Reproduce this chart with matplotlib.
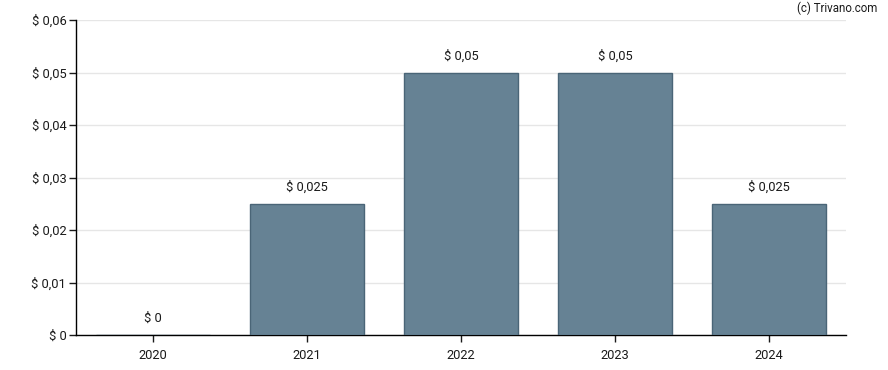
import matplotlib
matplotlib.use("Agg")
import matplotlib.pyplot as plt

years = ["2020", "2021", "2022", "2023", "2024"]
dividends = [0, 0.025, 0.05, 0.05, 0.025]
value_labels = ["$ 0", "$ 0,025", "$ 0,05", "$ 0,05", "$ 0,025"]
y_ticks = [0, 0.01, 0.02, 0.03, 0.04, 0.05, 0.06]
y_tick_labels = ["$ 0", "$ 0,01", "$ 0,02", "$ 0,03", "$ 0,04", "$ 0,05", "$ 0,06"]

plt.rcParams['font.family'] = ['Roboto', 'DejaVu Sans']

fig = plt.figure(figsize=(8.88, 3.70), dpi=100)
ax = fig.add_axes([76 / 888, 35 / 370, 770 / 888, 315 / 370])

x = list(range(len(years)))
ax.bar(x, dividends, width=0.74, color="#668294", edgecolor="#4a6577", linewidth=1, zorder=3)

for xi, v, lab in zip(x, dividends, value_labels):
    ax.annotate(lab, (xi, v), xytext=(0, 7), textcoords="offset points",
                ha="center", va="bottom", fontsize=9.3, color="#1a1a1a")

ax.set_xlim(-0.5, len(years) - 0.5)
ax.set_ylim(0, 0.06)
ax.set_xticks(x)
ax.set_xticklabels(years)
ax.set_yticks(y_ticks)
ax.set_yticklabels(y_tick_labels)
ax.tick_params(axis="both", labelsize=9.3, colors="#1a1a1a", length=5, width=1)
ax.tick_params(axis="x", pad=5)
ax.tick_params(axis="y", pad=2)

ax.yaxis.grid(True, color="#e6e6e6", linewidth=1, zorder=0)
for side in ["top", "right"]:
    ax.spines[side].set_visible(False)
for side in ["left", "bottom"]:
    ax.spines[side].set_color("black")
    ax.spines[side].set_linewidth(1)

fig.text(877 / 888, 1 - 8 / 370, "(c) Trivano.com", ha="right", va="center", fontsize=8.3, color="#1a1a1a")

fig.savefig("out.png", dpi=100)
